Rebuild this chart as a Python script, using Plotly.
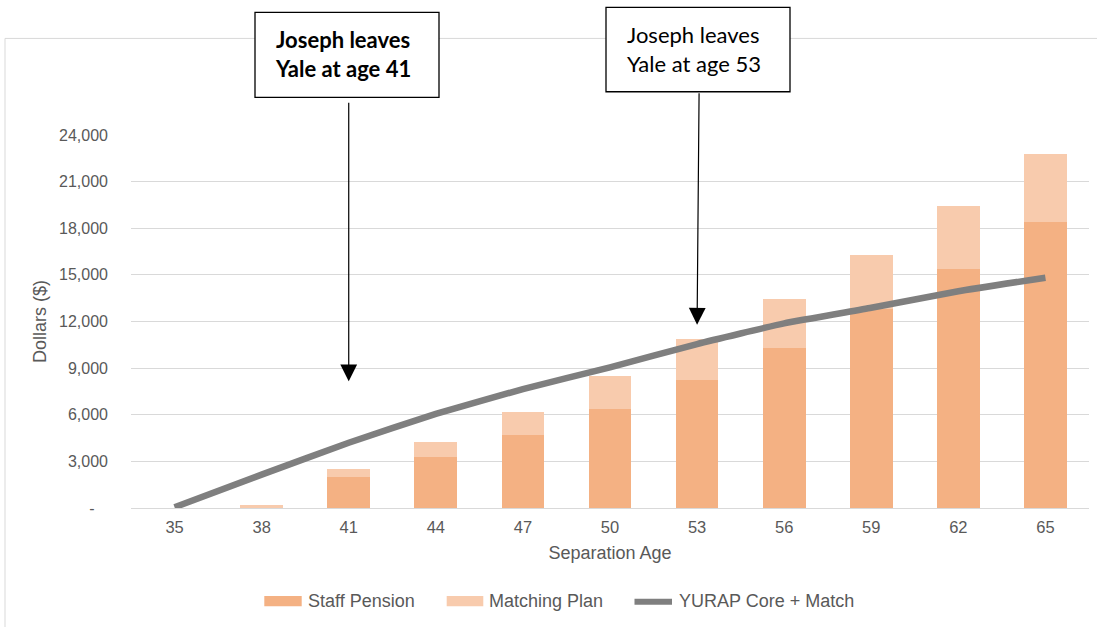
import plotly.graph_objects as go

# ---- data ----
ages = ["35", "38", "41", "44", "47", "50", "53", "56", "59", "62", "65"]
staff_pension = [0, 0, 1970, 3290, 4720, 6400, 8220, 10310, 12800, 15390, 18400]
matching_plan = [0, 200, 510, 925, 1485, 2070, 2660, 3170, 3500, 4010, 4370]
yurap_core_match = [50, 2150, 4200, 6050, 7650, 9050, 10550, 11880, 12880, 13950, 14820]
y_tickvals = [0, 3000, 6000, 9000, 12000, 15000, 18000, 21000, 24000]
y_ticktext = ["-\u00a0\u00a0\u00a0", "3,000", "6,000", "9,000", "12,000", "15,000", "18,000", "21,000", "24,000"]
legend_names = ["Staff Pension", "Matching Plan", "YURAP Core + Match"]

# ---- styles ----
C_STAFF = "#F4B183"
C_MATCH = "#F8CBAD"
C_LINE = "#7F7F7F"
C_GRID = "#D9D9D9"
C_TEXT = "#595959"
FONT = "Liberation Sans, Arial, sans-serif"
BOX_FONT = "Lato, Open Sans, sans-serif"

W, H = 1097, 627
L, R, T, B = 131, 8, 135, 118.5
PW, PH = W - L - R, H - T - B


def px(x):
    return (x - L) / PW


def py(y):
    return (H - B - y) / PH


fig = go.Figure()
fig.add_trace(go.Bar(x=ages, y=staff_pension, name=legend_names[0],
                     marker=dict(color=C_STAFF, line=dict(width=0)), showlegend=False))
fig.add_trace(go.Bar(x=ages, y=matching_plan, name=legend_names[1],
                     marker=dict(color=C_MATCH, line=dict(width=0)), showlegend=False))
fig.add_trace(go.Scatter(x=ages, y=yurap_core_match, name=legend_names[2], mode="lines",
                         line=dict(color=C_LINE, width=6.5, shape="spline", smoothing=0.4),
                         showlegend=False))

shapes = []
# outer chart border
shapes.append(dict(type="rect", xref="paper", yref="paper", x0=px(5), x1=px(1100),
                   y0=py(632), y1=py(38.3), line=dict(color=C_GRID, width=1),
                   fillcolor="rgba(0,0,0,0)", layer="below"))
# callout boxes
shapes.append(dict(type="rect", xref="paper", yref="paper", x0=px(255), x1=px(439),
                   y0=py(97.3), y1=py(12.3), line=dict(color="black", width=1.3),
                   fillcolor="white", layer="above"))
shapes.append(dict(type="rect", xref="paper", yref="paper", x0=px(606), x1=px(790),
                   y0=py(91.7), y1=py(7.3), line=dict(color="black", width=1.3),
                   fillcolor="white", layer="above"))
# custom legend swatches
shapes.append(dict(type="rect", xref="paper", yref="paper", x0=px(264.3), x1=px(301.7),
                   y0=py(607), y1=py(596.5), line=dict(width=0), fillcolor=C_STAFF))
shapes.append(dict(type="rect", xref="paper", yref="paper", x0=px(446.7), x1=px(483.3),
                   y0=py(607), y1=py(596.5), line=dict(width=0), fillcolor=C_MATCH))
shapes.append(dict(type="line", xref="paper", yref="paper", x0=px(634.5), x1=px(672),
                   y0=py(602.3), y1=py(602.3), line=dict(color=C_LINE, width=6)))

annotations = []
annotations.append(dict(xref="paper", yref="paper", x=px(273), y=py(54), xanchor="left",
                        yanchor="middle", align="left", showarrow=False,
                        text="<b>Joseph leaves<br>Yale at age 41</b>",
                        font=dict(family=BOX_FONT, size=22, color="black")))
annotations.append(dict(xref="paper", yref="paper", x=px(625), y=py(49), xanchor="left",
                        yanchor="middle", align="left", showarrow=False,
                        text="Joseph leaves<br>Yale at age 53",
                        font=dict(family=BOX_FONT, size=22, color="black")))
# arrows (category axis: x given as category index)
annotations.append(dict(xref="x", yref="paper", x=ages.index("41"), y=py(381.7), ax=0, ay=-280,
                        text="", showarrow=True, arrowhead=2,
                        arrowsize=2.8, arrowwidth=1.2, arrowcolor="black"))
annotations.append(dict(xref="x", yref="paper", x=ages.index("53"), y=py(325), ax=2, ay=-233,
                        text="", showarrow=True, arrowhead=2,
                        arrowsize=2.8, arrowwidth=1.2, arrowcolor="black"))
# legend texts
for name, xl in zip(legend_names, [306, 487.3, 676.7]):
    annotations.append(dict(xref="paper", yref="paper", x=px(xl), y=py(601.7), xanchor="left",
                            yanchor="middle", showarrow=False, text=name,
                            font=dict(family=FONT, size=18, color=C_TEXT)))

fig.update_layout(
    width=W, height=H,
    margin=dict(l=L, r=R, t=T, b=B, autoexpand=False),
    paper_bgcolor="white", plot_bgcolor="white",
    barmode="stack", bargap=0.51,
    showlegend=False,
    shapes=shapes, annotations=annotations,
    font=dict(family=FONT, color=C_TEXT),
    xaxis=dict(type="category", categoryorder="array", categoryarray=ages,
               showgrid=False, showline=True, linecolor=C_GRID, linewidth=1,
               ticks="", ticklabelstandoff=4,
               tickfont=dict(family=FONT, size=16.5, color=C_TEXT),
               title=dict(text="Separation Age", standoff=11,
                          font=dict(family=FONT, size=18, color=C_TEXT)),
               range=[-0.5, 10.5], fixedrange=True),
    yaxis=dict(range=[0, 24000], tickvals=y_tickvals, ticktext=y_ticktext,
               showgrid=True, gridcolor=C_GRID, gridwidth=1, zeroline=False,
               showline=False, ticks="", ticklabelstandoff=22,
               tickfont=dict(family=FONT, size=16, color=C_TEXT),
               title=dict(text="Dollars ($)", standoff=7,
                          font=dict(family=FONT, size=18, color=C_TEXT)),
               fixedrange=True),
)

fig.write_html("out.html", config={"displayModeBar": False},
               post_script="document.body.style.margin='0';document.body.style.overflow='hidden';")
